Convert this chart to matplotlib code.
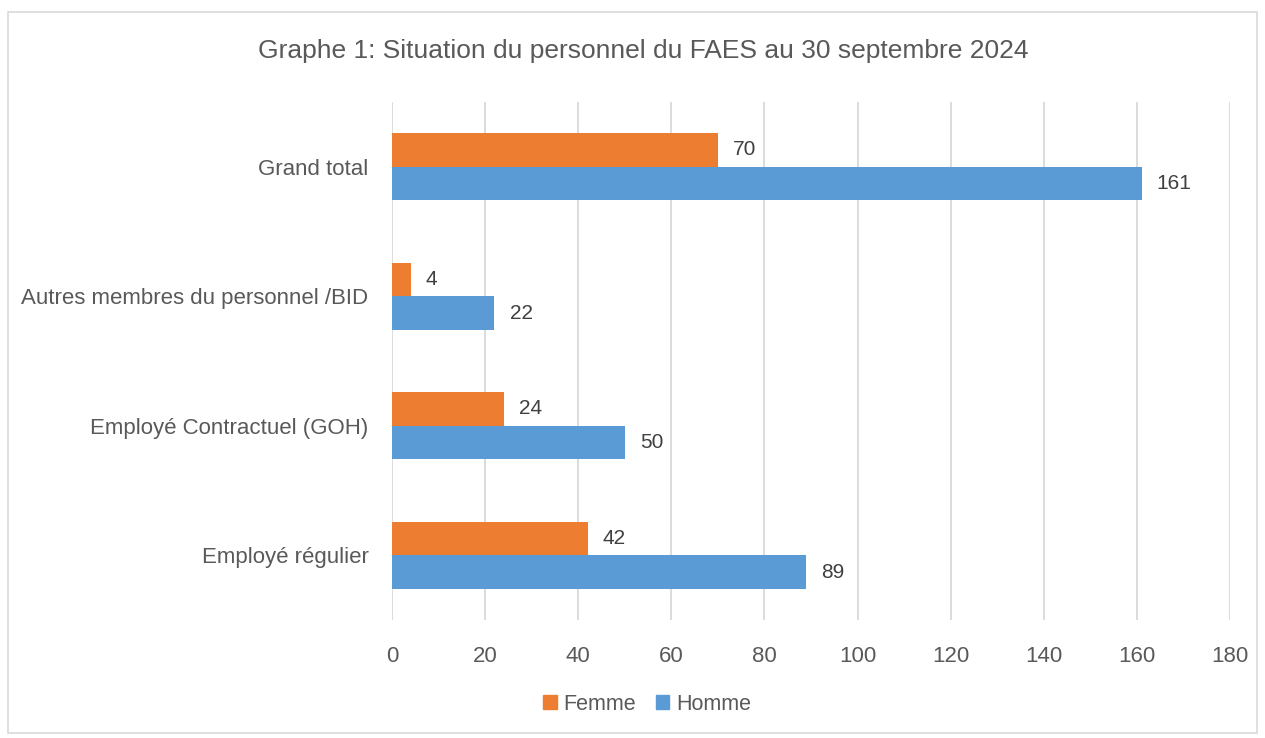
import matplotlib
matplotlib.use("Agg")
import matplotlib.pyplot as plt
from matplotlib.patches import Rectangle, Patch

categories = ["Employé régulier", "Employé Contractuel (GOH)",
              "Autres membres du personnel /BID", "Grand total"]
femme = [42, 24, 4, 70]
homme = [89, 50, 22, 161]
x_ticks = [0, 20, 40, 60, 80, 100, 120, 140, 160, 180]

ORANGE = "#ED7D31"
BLUE = "#5B9BD5"
TEXT = "#595959"
GRID = "#D9D9D9"

plt.rcParams["font.family"] = ["Liberation Sans", "DejaVu Sans"]

fig = plt.figure(figsize=(12.65, 7.38), dpi=100)
# chart border
fig.patches.append(Rectangle((8 / 1265, 1 - 733 / 738), 1249 / 1265, 721 / 738,
                             transform=fig.transFigure, fill=False,
                             edgecolor=GRID, linewidth=1.2))

ax = fig.add_axes([392 / 1265, 1 - 620 / 738, 838 / 1265, 518 / 738])
h = 0.259
ypos = list(range(len(categories)))
ax.barh([y + h / 2 for y in ypos], femme, height=h, color=ORANGE, label="Femme", zorder=3)
ax.barh([y - h / 2 for y in ypos], homme, height=h, color=BLUE, label="Homme", zorder=3)

for y, f, m in zip(ypos, femme, homme):
    ax.annotate(str(f), (f, y + h / 2), xytext=(11, 0), textcoords="offset points",
                va="center", ha="left", fontsize=15, color="#404040")
    ax.annotate(str(m), (m, y - h / 2), xytext=(11, 0), textcoords="offset points",
                va="center", ha="left", fontsize=15, color="#404040")

ax.set_xlim(0, 180)
ax.set_ylim(-0.5, 3.5)
ax.set_xticks(x_ticks)
ax.set_yticks(ypos)
ax.set_yticklabels(categories)
ax.tick_params(axis="x", length=0, pad=19, labelsize=16, labelcolor=TEXT)
ax.tick_params(axis="y", length=0, pad=17, labelsize=16, labelcolor=TEXT)
ax.grid(axis="x", color=GRID, linewidth=1.3, zorder=0)
for s in ax.spines.values():
    s.set_visible(False)

fig.text(643 / 1265, 1 - 51 / 738, "Graphe 1: Situation du personnel du FAES au 30 septembre 2024",
         ha="center", va="center", fontsize=19, color=TEXT)

handles = [Patch(color=ORANGE, label="Femme"), Patch(color=BLUE, label="Homme")]
fig.legend(handles=handles, loc="center", bbox_to_anchor=(647 / 1265, 1 - 704 / 738),
           ncol=2, frameon=False, fontsize=15.5, labelcolor=TEXT,
           handlelength=0.65, handleheight=0.65, handletextpad=0.3, columnspacing=0.9)

fig.savefig("out.png", dpi=100)
plt.close("all")
